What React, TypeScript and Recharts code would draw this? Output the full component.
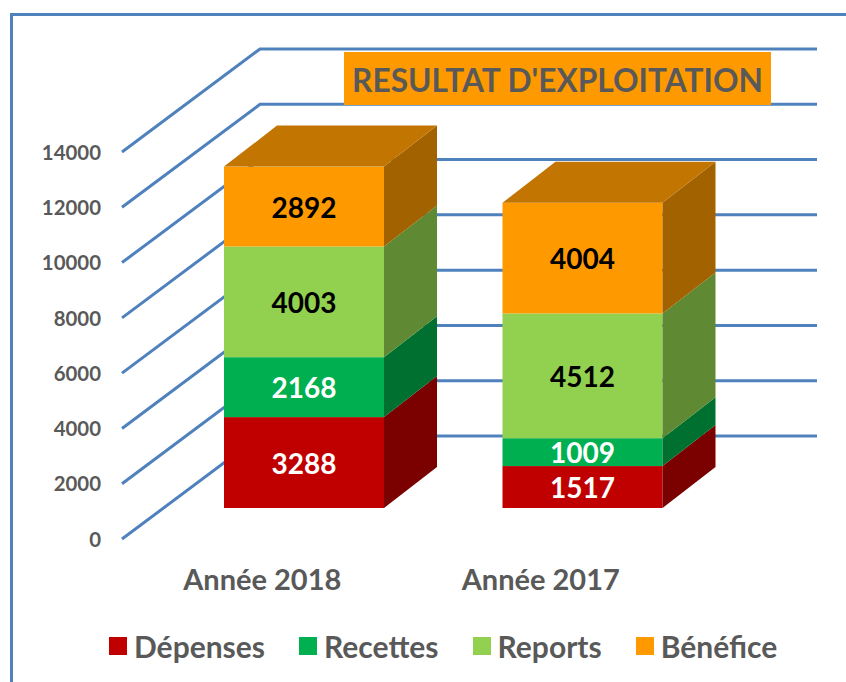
import { BarChart, Bar, XAxis, YAxis, CartesianGrid, Legend, LabelList } from 'recharts';

const years = ['Année 2018', 'Année 2017'];
const depenses = [3288, 1517];
const recettes = [2168, 1009];
const reports = [4003, 4512];
const benefice = [2892, 4004];
const yTicks = [0, 2000, 4000, 6000, 8000, 10000, 12000, 14000];

const data = years.map((year, i) => ({
  year,
  Dépenses: depenses[i],
  Recettes: recettes[i],
  Reports: reports[i],
  Bénéfice: benefice[i],
}));

const FONT = 'Lato, sans-serif';
const GREY = '#595959';
const BLUE = '#4F81BD';

// shift of the bars from the axis plane, and depth of the fake 3D box
const SHIFT_X = 42;
const SHIFT_Y = -31;
const DEPTH_X = 53;
const DEPTH_Y = -41;

// floor/wall offset of the grid lines
const WALL_X = 138;
const WALL_Y = -103;
const WALL_END = 817;

function box3d(side: string, top?: string) {
  return (props: any) => {
    const x = props.x + SHIFT_X;
    const y = props.y + SHIFT_Y;
    const { width: w, height: h, fill } = props;
    return (
      <g>
        <rect x={x} y={y} width={w} height={h} fill={fill} />
        <polygon
          points={`${x + w},${y} ${x + w + DEPTH_X},${y + DEPTH_Y} ${x + w + DEPTH_X},${y + h + DEPTH_Y} ${x + w},${y + h}`}
          fill={side}
        />
        {top && (
          <polygon
            points={`${x},${y} ${x + DEPTH_X},${y + DEPTH_Y} ${x + w + DEPTH_X},${y + DEPTH_Y} ${x + w},${y}`}
            fill={top}
          />
        )}
      </g>
    );
  };
}

function valueLabel(color: string) {
  return (props: any) => (
    <text
      x={props.x + SHIFT_X + props.width / 2}
      y={props.y + SHIFT_Y + props.height / 2}
      dy="0.4em"
      textAnchor="middle"
      fontFamily={FONT}
      fontWeight={700}
      fontSize={28}
      fill={color}
    >
      {props.value}
    </text>
  );
}

function gridLine(props: any) {
  const { x1, y1 } = props;
  const start = x1 - 1;
  return (
    <polyline
      key={`grid-${y1}`}
      points={`${start},${y1} ${start + WALL_X},${y1 + WALL_Y} ${WALL_END},${y1 + WALL_Y}`}
      fill="none"
      stroke={BLUE}
      strokeWidth={3}
    />
  );
}

function legendContent(props: any) {
  return (
    <div style={{ display: 'flex', justifyContent: 'flex-start', paddingLeft: 109, gap: 34, height: 40, alignItems: 'center' }}>
      {props.payload.map((item: any) => (
        <div key={item.value} style={{ display: 'flex', alignItems: 'center', gap: 7 }}>
          <span style={{ width: 18, height: 18, background: item.color, display: 'inline-block' }} />
          <span style={{ fontFamily: FONT, fontWeight: 700, fontSize: 30, color: GREY }}>{item.value}</span>
        </div>
      ))}
    </div>
  );
}

export default function App() {
  return (
    <div style={{ position: 'absolute', left: 0, top: 0, width: 846, height: 682, background: '#fff', overflow: 'hidden' }}>
      <div style={{ position: 'absolute', left: 10, top: 13, width: 846, height: 682, borderLeft: `3px solid ${BLUE}`, borderTop: `3px solid ${BLUE}` }} />
      <BarChart
        width={846}
        height={682}
        data={data}
        barSize={160}
        margin={{ top: 152, right: 166, bottom: 16, left: 73 }}
        style={{ position: 'absolute', left: 0, top: 0 }}
      >
        <CartesianGrid vertical={false} horizontal={gridLine} />
        <XAxis
          dataKey="year"
          height={87}
          axisLine={false}
          tickLine={false}
          tickMargin={24}
          tick={{ fontFamily: FONT, fontWeight: 700, fontSize: 29, fill: GREY }}
        />
        <YAxis
          width={50}
          domain={[0, 14000]}
          ticks={yTicks}
          axisLine={false}
          tickLine={false}
          tickMargin={16}
          tick={{ fontFamily: FONT, fontWeight: 700, fontSize: 20.4, fill: GREY, dy: 0.5 }}
        />
        <Legend
          verticalAlign="bottom"
          height={40}
          itemSorter={null}
          wrapperStyle={{ left: 0, width: 846 }}
          content={legendContent}
        />
        <Bar dataKey="Dépenses" stackId="a" fill="#C00000" shape={box3d('#7B0000')} isAnimationActive={false}>
          <LabelList dataKey="Dépenses" content={valueLabel('#fff')} />
        </Bar>
        <Bar dataKey="Recettes" stackId="a" fill="#00B050" shape={box3d('#007030')} isAnimationActive={false}>
          <LabelList dataKey="Recettes" content={valueLabel('#fff')} />
        </Bar>
        <Bar dataKey="Reports" stackId="a" fill="#92D050" shape={box3d('#5F8A33')} isAnimationActive={false}>
          <LabelList dataKey="Reports" content={valueLabel('#000')} />
        </Bar>
        <Bar dataKey="Bénéfice" stackId="a" fill="#FF9900" shape={box3d('#A36200', '#C27500')} isAnimationActive={false}>
          <LabelList dataKey="Bénéfice" content={valueLabel('#000')} />
        </Bar>
      </BarChart>
      <div
        style={{
          position: 'absolute',
          left: 344,
          top: 52,
          width: 427,
          height: 53,
          background: '#FF9900',
          color: GREY,
          fontFamily: FONT,
          fontWeight: 700,
          fontSize: 31.7,
          lineHeight: '56px',
          textAlign: 'center',
          whiteSpace: 'nowrap',
        }}
      >
        RESULTAT D'EXPLOITATION
      </div>
    </div>
  );
}
